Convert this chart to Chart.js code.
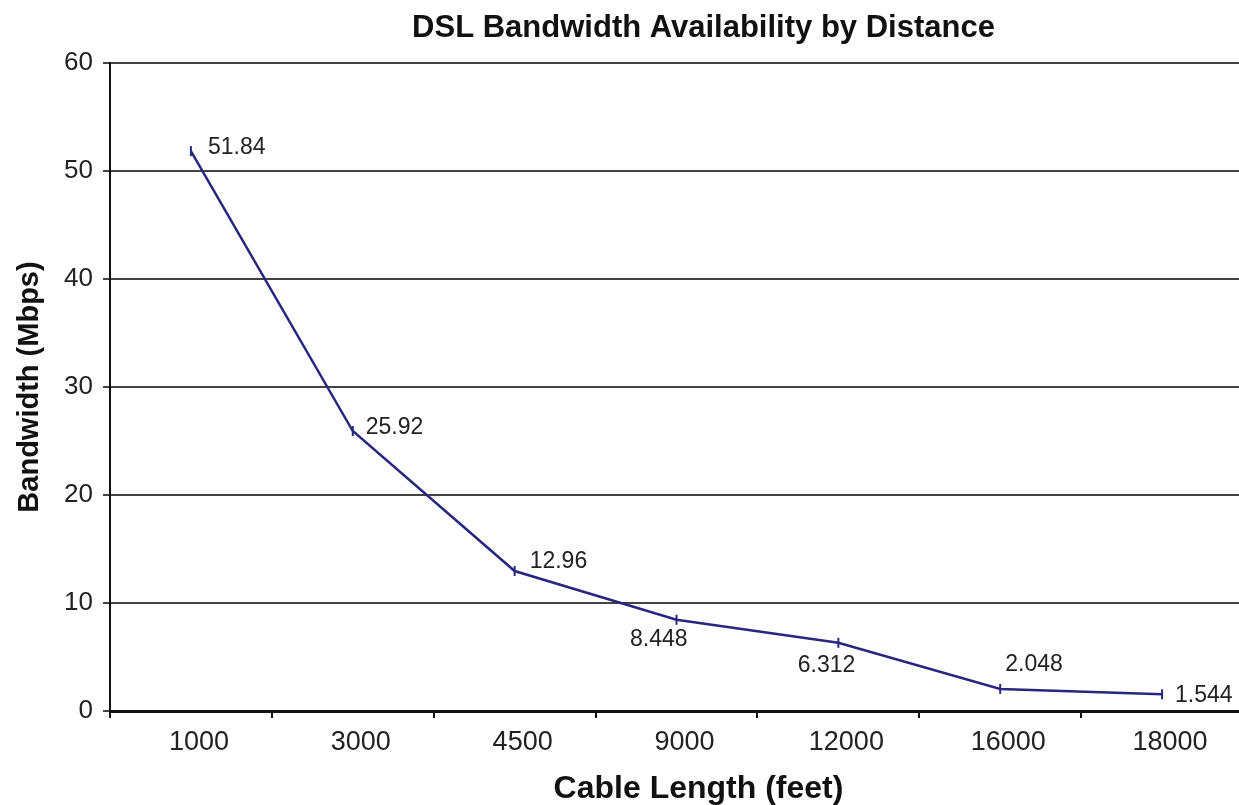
<!DOCTYPE html>
<html>
<head>
<meta charset="utf-8">
<script src="https://cdn.jsdelivr.net/npm/chart.js@4.4.1/dist/chart.umd.min.js"></script>
<style>
  html, body { margin: 0; padding: 0; background: #fff; overflow: hidden; }
  #wrap { position: relative; width: 1250px; height: 805px; }
</style>
</head>
<body>
<div id="wrap"><canvas id="c"></canvas></div>
<script>
// Cable length categories (feet) and the bandwidth reachable at each (Mbps)
const cableLengths = ['1000', '3000', '4500', '9000', '12000', '16000', '18000'];
const bandwidthMbps = [51.84, 25.92, 12.96, 8.448, 6.312, 2.048, 1.544];
const yTicks = [0, 10, 20, 30, 40, 50, 60];

const chartTitle = 'DSL Bandwidth Availability by Distance';
const xTitle = 'Cable Length (feet)';
const yTitle = 'Bandwidth (Mbps)';

// Where each value label sits relative to its point: [dx, dy, textAlign]
const labelPlacement = [
  [17, -3, 'left'],
  [13, -3, 'left'],
  [15, -9, 'left'],
  [11, 20, 'right'],
  [17, 23, 'right'],
  [5, -24, 'left'],
  [13, 1, 'left']
];

const FONT = '"Liberation Sans", Arial, Helvetica, sans-serif';

// Heading above the plot and the caption under the x axis
const captions = {
  id: 'captions',
  afterDraw(chart) {
    const { ctx, chartArea } = chart;
    const mid = (chartArea.left + chartArea.right) / 2;
    ctx.save();
    ctx.fillStyle = '#111';
    ctx.textAlign = 'center';
    ctx.textBaseline = 'middle';
    ctx.font = 'bold 31px ' + FONT;
    ctx.fillText(chartTitle, mid + 27, 28);
    ctx.font = 'bold 32px ' + FONT;
    ctx.fillText(xTitle, mid + 22, chart.height - 16);
    ctx.restore();
  }
};

const valueLabels = {
  id: 'valueLabels',
  afterDatasetsDraw(chart) {
    const { ctx } = chart;
    const meta = chart.getDatasetMeta(0);
    ctx.save();
    ctx.font = '23px ' + FONT;
    ctx.fillStyle = '#222';
    ctx.textBaseline = 'middle';
    meta.data.forEach((pt, i) => {
      const [dx, dy, align] = labelPlacement[i];
      ctx.textAlign = align;
      ctx.fillText(String(bandwidthMbps[i]), pt.x + dx, pt.y + dy);
    });
    ctx.restore();
  }
};

new Chart(document.getElementById('c'), {
  type: 'line',
  data: {
    labels: cableLengths,
    datasets: [{
      data: bandwidthMbps,
      borderColor: '#27277f',
      borderWidth: 2.5,
      pointStyle: 'line',
      rotation: 90,
      pointRadius: 5,
      pointBorderWidth: 2,
      pointBorderColor: '#27277f',
      pointHoverRadius: 5,
      tension: 0,
      fill: false
    }]
  },
  options: {
    responsive: true,
    maintainAspectRatio: false,
    animation: false,
    events: [],
    layout: { padding: { top: 63, right: 6, bottom: 0, left: 0 } },
    plugins: {
      legend: { display: false },
      tooltip: { enabled: false },
      title: { display: false }
    },
    scales: {
      x: {
        type: 'category',
        offset: true,
        afterFit(scale) { scale.height = 94; },
        grid: {
          offset: true,
          drawOnChartArea: false,
          drawTicks: true,
          tickLength: 7,
          color: '#111',
          lineWidth: 2
        },
        border: { display: true, color: '#111', width: 3 },
        ticks: {
          font: { family: FONT, size: 27 },
          color: '#222',
          padding: 8,
          labelOffset: 8,
          maxRotation: 0
        },
        title: { display: false, text: xTitle }
      },
      y: {
        min: 0,
        max: 60,
        afterFit(scale) { scale.width = 110; },
        afterBuildTicks(scale) {
          scale.ticks = yTicks.map(v => ({ value: v }));
        },
        grid: {
          color: '#444',
          lineWidth: 2,
          drawTicks: true,
          tickLength: 7
        },
        border: { display: true, color: '#111', width: 2 },
        ticks: {
          font: { family: FONT, size: 26 },
          color: '#222',
          padding: 10
        },
        title: {
          display: true,
          text: yTitle,
          font: { family: FONT, size: 29, weight: 'bold', lineHeight: 1 },
          color: '#111',
          padding: { top: 15, bottom: 0 }
        }
      }
    }
  },
  plugins: [captions, valueLabels]
});
</script>
</body>
</html>
